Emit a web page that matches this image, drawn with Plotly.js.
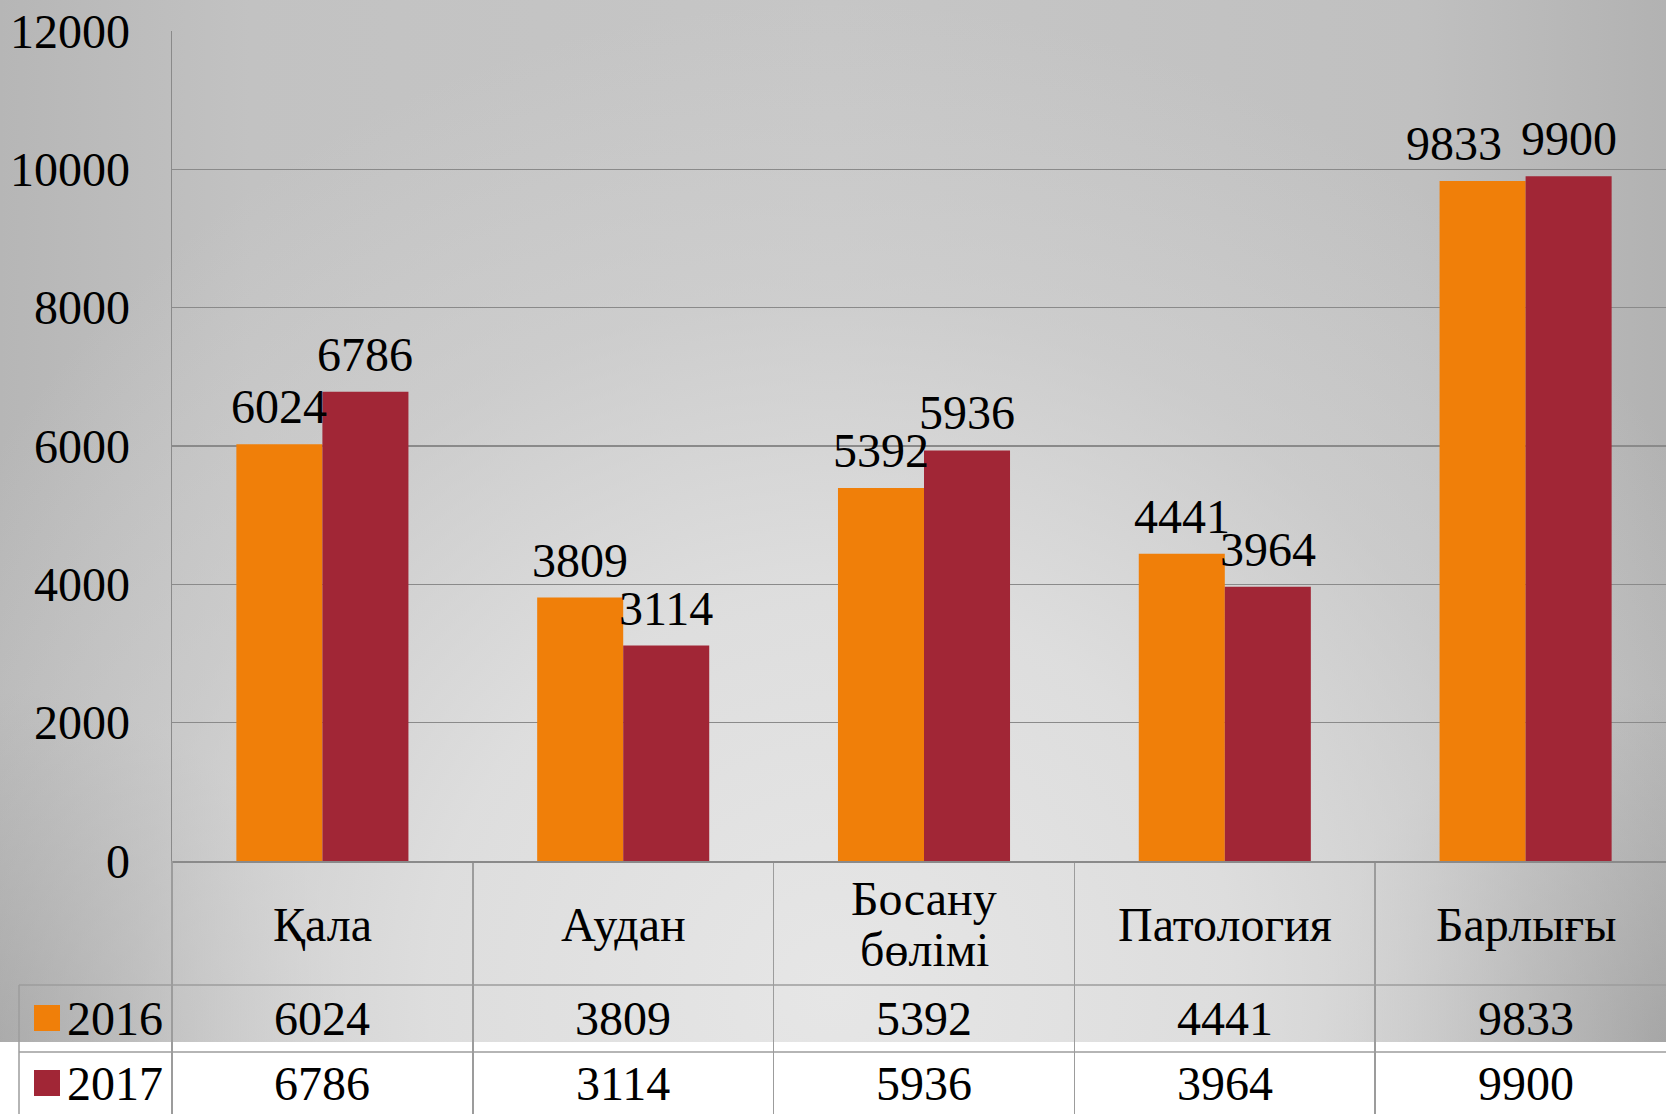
<!DOCTYPE html>
<html>
<head>
<meta charset="utf-8">
<script src="https://cdn.plot.ly/plotly-3.0.1.min.js"></script>
<style>
  html, body { margin: 0; padding: 0; background: #ffffff; }
  #wrap { position: relative; width: 1666px; height: 1114px; overflow: hidden; }
  #bg { position: absolute; left: 0; top: 0; width: 1666px; height: 1042px;
        background:
          radial-gradient(ellipse 60% 95% at 50% 95%, rgba(230,230,230,1) 0%, rgba(226,226,226,0.85) 40%, rgba(215,215,215,0.45) 70%, rgba(200,200,200,0) 100%),
          radial-gradient(circle 350px at 0% 100%, rgba(150,150,150,0.8), rgba(150,150,150,0)),
          radial-gradient(circle 350px at 100% 100%, rgba(145,145,145,0.85), rgba(145,145,145,0)),
          linear-gradient(to right, #b6b6b6 0%, #c2c2c2 15%, #c6c6c6 50%, #c0c0c0 85%, #b2b2b2 100%); }
  #chart { position: absolute; left: 0; top: 0; width: 1666px; height: 1114px; }
</style>
</head>
<body>
<div id="wrap"><div id="bg"></div><div id="chart"></div></div>
<script>
const categories = ["Қала", "Аудан", "Босану<br>бөлімі", "Патология", "Барлығы"];
const seriesNames = ["2016", "2017"];
const values2016 = [6024, 3809, 5392, 4441, 9833];
const values2017 = [6786, 3114, 5936, 3964, 9900];
const yTicks = [0, 2000, 4000, 6000, 8000, 10000, 12000];

const colors = ["#F07F09", "#A12636"];
const FONT = "Liberation Serif, Times New Roman, serif";
const FS = 48;
const W = 1666, H = 1114, L = 172, T = 31, B = 253;
const plotW = W - L, plotH = H - T - B;
const yPaper = px => (H - B - px) / plotH;
const xPaper = px => (px - L) / plotW;
const catWidth = 300.8;
const xMax = -0.5 + plotW / catWidth;
const BARGAP = 0.428;
const barPx = catWidth * (1 - BARGAP) / 2;
// label nudges (pixels) where the original moved a label to avoid overlap
const labelNudge = { "0|4": -29 };

const allSeries = [values2016, values2017];
const traces = allSeries.map((vals, i) => ({
  type: "bar",
  name: seriesNames[i],
  x: categories,
  y: vals,
  marker: { color: colors[i], line: { width: 0 } },
  cliponaxis: false,
  hoverinfo: "x+y"
}));

const annotations = [];
// value labels above bars
allSeries.forEach((vals, i) => {
  vals.forEach((v, j) => {
    annotations.push({ x: categories[j], xref: "x", y: v, yref: "y", text: String(v),
      showarrow: false, xanchor: "center", yanchor: "bottom",
      xshift: (i === 0 ? -1 : 1) * barPx / 2 + (labelNudge[i + "|" + j] || 0),
      yshift: 9,
      font: { family: FONT, size: FS, color: "#000" } });
  });
});
// category labels row
categories.forEach(c => {
  const lines = c.split("<br>");
  const center = 924, spacing = 51;
  lines.forEach((ln, k) => {
    const yy = center + (k - (lines.length - 1) / 2) * spacing;
    annotations.push({ x: c, xref: "x", y: yPaper(yy), yref: "paper", text: ln,
      showarrow: false, xanchor: "center", yanchor: "middle",
      font: { family: FONT, size: FS, color: "#000" } });
  });
});
// value rows
const rowCenters = [1018, 1083];
allSeries.forEach((vals, i) => {
  vals.forEach((v, j) => {
    annotations.push({ x: categories[j], xref: "x", y: yPaper(rowCenters[i]), yref: "paper",
      text: String(v), showarrow: false, xanchor: "center", yanchor: "middle",
      font: { family: FONT, size: FS, color: "#000" } });
  });
  annotations.push({ x: xPaper(65), xref: "paper", y: yPaper(rowCenters[i]), yref: "paper",
    text: seriesNames[i], showarrow: false, xanchor: "left", yanchor: "middle",
    font: { family: FONT, size: FS, color: "#000" } });
});

const lineCol = "#9c9c9c";
const shapes = [];
// legend squares
rowCenters.forEach((cy, i) => {
  shapes.push({ type: "rect", xref: "paper", yref: "paper",
    x0: xPaper(34), x1: xPaper(60), y0: yPaper(cy - 13), y1: yPaper(cy + 13),
    fillcolor: colors[i], line: { width: 0 } });
});
// table horizontal lines
[985, 1052].forEach(py => {
  shapes.push({ type: "line", xref: "paper", yref: "paper",
    x0: xPaper(19), x1: 1, y0: yPaper(py), y1: yPaper(py),
    line: { color: lineCol, width: 1.5 } });
});
// table left border and first column border
shapes.push({ type: "line", xref: "paper", yref: "paper",
  x0: xPaper(19), x1: xPaper(19), y0: yPaper(985), y1: yPaper(1120),
  line: { color: lineCol, width: 1.5 } });
shapes.push({ type: "line", xref: "paper", yref: "paper",
  x0: 0, x1: 0, y0: 0, y1: yPaper(1120),
  line: { color: lineCol, width: 1.5 } });

const layout = {
  width: W, height: H,
  margin: { l: L, r: 0, t: T, b: B, pad: 0 },
  paper_bgcolor: "rgba(0,0,0,0)",
  plot_bgcolor: "rgba(0,0,0,0)",
  showlegend: false,
  barmode: "group",
  bargap: BARGAP,
  bargroupgap: 0,
  font: { family: FONT, size: FS, color: "#000" },
  xaxis: {
    type: "category",
    range: [-0.5, xMax],
    tickson: "boundaries",
    ticks: "outside",
    ticklen: B,
    tickwidth: 1.5,
    tickcolor: lineCol,
    showticklabels: false,
    showgrid: false,
    showline: true,
    linecolor: "#8a8a8a",
    linewidth: 1.5,
    zeroline: false,
    fixedrange: true
  },
  yaxis: {
    range: [0, 12000],
    tickvals: yTicks,
    ticktext: yTicks.map(String),
    ticks: "",
    ticklabelstandoff: 31,
    tickfont: { family: FONT, size: FS, color: "#000" },
    showgrid: true,
    gridcolor: "#8a8a8a",
    gridwidth: 1.5,
    showline: true,
    linecolor: "#8a8a8a",
    linewidth: 1.5,
    zeroline: false,
    fixedrange: true
  },
  annotations: annotations,
  shapes: shapes
};

Plotly.newPlot("chart", traces, layout, { displayModeBar: false, staticPlot: true });
</script>
</body>
</html>
